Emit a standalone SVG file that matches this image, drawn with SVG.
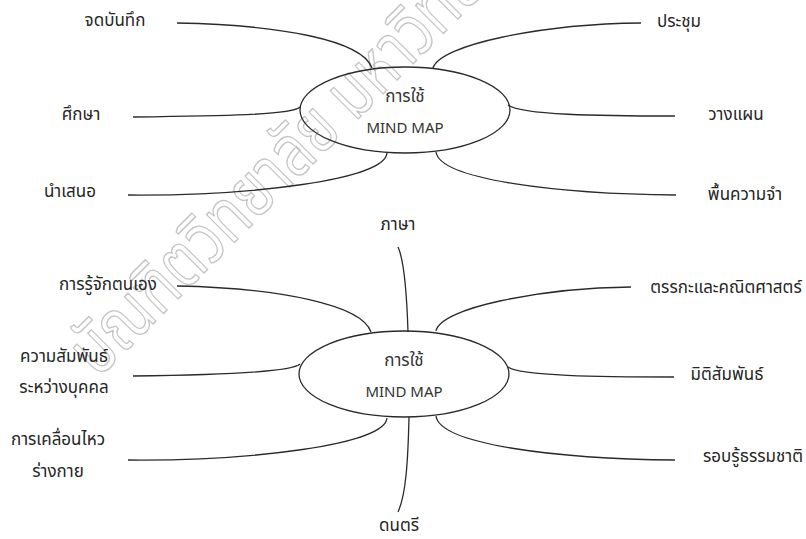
<svg xmlns="http://www.w3.org/2000/svg" width="806" height="539" viewBox="0 0 806 539">
<style>
.bg{fill:#ffffff}
.wm{fill:none;stroke:#c4c4c4;stroke-width:1.4;font-family:"Noto Sans Thai","Noto Sans",sans-serif;font-size:72px}
.hub{fill:none;stroke:#2a2a2a;stroke-width:1.3}
.lbl{fill:#262626;font-family:"Noto Sans Thai","Noto Sans","DejaVu Sans",sans-serif;font-size:17px;text-anchor:middle}
.ctr{fill:#333333;font-family:"Noto Sans Thai","Noto Sans","DejaVu Sans",sans-serif;font-size:17px;text-anchor:middle}
.en{fill:#333333;font-family:"Noto Sans","DejaVu Sans",sans-serif;font-size:15px;text-anchor:middle}
.lk{fill:none;stroke:#2a2a2a;stroke-width:1.3}
</style>
<rect class="bg" x="0" y="0" width="806" height="539"/>
<text class="wm" transform="translate(98,379) rotate(-45) scale(0.8,1)">บัณฑิตวิทยาลัย มหาวิทยาลัยศรีนครินทรวิโรฒ</text>
<g id="connectors">
<path class="lk" d="M177,23 C280,25 362,40 372,68"/>
<path class="lk" d="M133,117 C220,116 292,115 300,107"/>
<path class="lk" d="M128,195 C250,196 385,180 387,153"/>
<path class="lk" d="M641,23 C540,24 440,45 433,68"/>
<path class="lk" d="M675,116 C600,116 520,115 508,105"/>
<path class="lk" d="M676,195 C560,194 440,180 436,152"/>
<path class="lk" d="M398,247 C405,262 407,300 408,332"/>
<path class="lk" d="M409,417 C408,460 406,495 398,512"/>
<path class="lk" d="M177,286 C280,288 362,305 371,332"/>
<path class="lk" d="M133,376 C220,375 292,372 300,364"/>
<path class="lk" d="M128,460 C250,461 385,445 387,418"/>
<path class="lk" d="M631,287 C540,288 440,308 436,331"/>
<path class="lk" d="M674,377 C600,377 520,376 508,367"/>
<path class="lk" d="M675,460 C560,459 440,445 436,416"/>
</g>
<g id="hub-top">
<ellipse class="hub" cx="405" cy="110" rx="105" ry="43"/>
<text class="ctr" x="405" y="102">การใช้</text>
<text class="en" x="405" y="133">MIND MAP</text>
</g>
<g id="hub-bottom">
<ellipse class="hub" cx="404" cy="374" rx="105" ry="43"/>
<text class="ctr" x="404" y="366">การใช้</text>
<text class="en" x="404" y="397">MIND MAP</text>
</g>
<g id="n-record"><text class="lbl" x="115" y="26">จดบันทึก</text></g>
<g id="n-study"><text class="lbl" x="81" y="120">ศึกษา</text></g>
<g id="n-present"><text class="lbl" x="70" y="197">นำเสนอ</text></g>
<g id="n-meeting"><text class="lbl" x="679" y="27">ประชุม</text></g>
<g id="n-plan"><text class="lbl" x="736" y="120">วางแผน</text></g>
<g id="n-recall"><text class="lbl" x="745" y="200">พื้นความจำ</text></g>
<g id="n-language"><text class="lbl" x="398" y="230">ภาษา</text></g>
<g id="n-music"><text class="lbl" x="399" y="531">ดนตรี</text></g>
<g id="n-self"><text class="lbl" x="108" y="290">การรู้จักตนเอง</text></g>
<g id="n-interpersonal"><text class="lbl" x="64" y="362">ความสัมพันธ์</text><text class="lbl" x="64" y="393">ระหว่างบุคคล</text></g>
<g id="n-body"><text class="lbl" x="58" y="445">การเคลื่อนไหว</text><text class="lbl" x="58" y="477">ร่างกาย</text></g>
<g id="n-logic"><text class="lbl" x="726" y="293">ตรรกะและคณิตศาสตร์</text></g>
<g id="n-spatial"><text class="lbl" x="727" y="380">มิติสัมพันธ์</text></g>
<g id="n-nature"><text class="lbl" x="753" y="462">รอบรู้ธรรมชาติ</text></g>
</svg>
